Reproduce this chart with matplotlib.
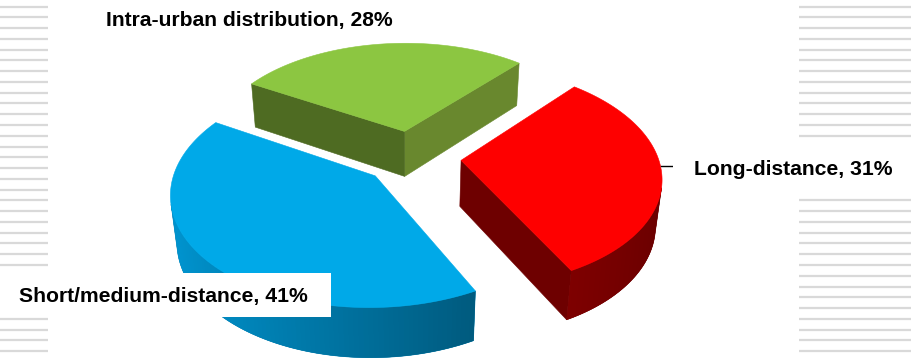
import numpy as np
import matplotlib
matplotlib.use("Agg")
import matplotlib.pyplot as plt
from matplotlib.patches import Polygon, Rectangle
from matplotlib.colors import to_rgb

labels = ["Intra-urban distribution", "Long-distance", "Short/medium-distance"]
shares = [28, 31, 41]
top_colors = ["#8CC641", "#FE0000", "#00A9E8"]
side_light = ["#6E8E30", "#B40000", "#0096D2"]
side_dark = ["#44601E", "#6A0000", "#00445F"]

# camera / layout of the tilted pie (pixel units of the 912x359 figure)
START = 149.5
EXPLODE = 0.25
THICK = 0.285
TILT = np.radians(33)
DIST = 5.94
FOCAL = 1170
CX, CY = 412, 157
CAM = np.array([0.0, -DIST * np.cos(TILT), DIST * np.sin(TILT)])


def project(x, y, h):
    yv = y * np.sin(TILT) + h * np.cos(TILT)
    z = DIST + y * np.cos(TILT) - h * np.sin(TILT)
    return np.column_stack([CX + FOCAL * x / z, CY - FOCAL * yv / z])


def mix(light, dark, s):
    l, d = np.array(to_rgb(light)), np.array(to_rgb(dark))
    return tuple(d + (l - d) * np.clip(s, 0, 1))


def facing(p, n):
    return np.dot(CAM - p, n) > 0


def add_face(ax, x, y, h, color, z, lw=0.4):
    ax.add_patch(Polygon(project(x, y, h), closed=True, facecolor=color,
                         edgecolor=color if lw else "none", lw=lw, zorder=z))


fig = plt.figure(figsize=(9.12, 3.59), dpi=100)
ax = fig.add_axes([0, 0, 1, 1])
ax.set_xlim(0, 912)
ax.set_ylim(359, 0)
ax.axis("off")

# striped background at both edges
rows = np.arange(6.5, 359, 10.77)
ax.hlines(rows, 0, 48, color="#D9D9D9", lw=1.6, zorder=0)
ax.hlines(rows, 799, 912, color="#D9D9D9", lw=1.6, zorder=0)

# slice geometry (clockwise from START)
wedges = []
edge = START
for i, v in enumerate(shares):
    a1 = np.radians(edge)
    a0 = np.radians(edge - v * 3.6)
    edge -= v * 3.6
    mid = (a0 + a1) / 2
    wedges.append((i, a0, a1, EXPLODE * np.cos(mid), EXPLODE * np.sin(mid)))

# far slices first
wedges.sort(key=lambda w: -w[4])
z = 2
for i, a0, a1, ox, oy in wedges:
    t = np.linspace(a0, a1, 120)
    # radial cut faces
    for a, n in [(a0, np.array([np.sin(a0), -np.cos(a0), 0])),
                 (a1, np.array([-np.sin(a1), np.cos(a1), 0]))]:
        p = np.array([ox + 0.5 * np.cos(a), oy + 0.5 * np.sin(a), -THICK / 2])
        if facing(p, n):
            xs = np.array([ox, ox + np.cos(a), ox + np.cos(a), ox])
            ys = np.array([oy, oy + np.sin(a), oy + np.sin(a), oy])
            hs = np.array([0, 0, -THICK, -THICK])
            add_face(ax, xs, ys, hs, mix(side_light[i], side_dark[i], (1 + n[0]) / 2), z)
    # curved outer face: solid underlay, then shaded strips (each overlaps the next)
    tm = (t[:-1] + t[1:]) / 2
    vis = np.array([facing(np.array([ox + np.cos(a), oy + np.sin(a), -THICK / 2]),
                           np.array([np.cos(a), np.sin(a), 0])) for a in tm])
    if vis.any():
        idx = np.where(vis)[0]
        ts = t[idx[0]:idx[-1] + 2]
        xs = np.concatenate([ox + np.cos(ts), ox + np.cos(ts[::-1])])
        ys = np.concatenate([oy + np.sin(ts), oy + np.sin(ts[::-1])])
        hs = np.concatenate([np.zeros_like(ts), np.full_like(ts, -THICK)])
        add_face(ax, xs, ys, hs,
                 mix(side_light[i], side_dark[i], (1 - np.cos(ts.mean())) / 2), z)
        for k in idx:
            hi = t[min(k + 2, idx[-1] + 1)]
            tt = np.array([t[k], hi, hi, t[k]])
            add_face(ax, ox + np.cos(tt), oy + np.sin(tt),
                     np.array([0, 0, -THICK, -THICK]),
                     mix(side_light[i], side_dark[i], (1 - np.cos(tm[k])) / 2), z, lw=0)
    # top face
    xs = np.concatenate([[ox], ox + np.cos(t)])
    ys = np.concatenate([[oy], oy + np.sin(t)])
    add_face(ax, xs, ys, np.zeros_like(xs), top_colors[i], z + 1)
    z += 2

# labels
font = dict(family="Liberation Sans", weight="bold", fontsize=15.2, color="black")
ax.add_patch(Rectangle((0, 273), 331, 44, facecolor="white", edgecolor="none", zorder=20))
ax.add_patch(Rectangle((673, 141), 239, 52, facecolor="white", edgecolor="none", zorder=20))

ax.text(106, 26, f"{labels[0]}, {shares[0]}%", ha="left", va="baseline", zorder=21, **font)
ax.text(694, 175, f"{labels[1]}, {shares[1]}%", ha="left", va="baseline", zorder=21, **font)
ax.text(19, 302, f"{labels[2]}, {shares[2]}%", ha="left", va="baseline", zorder=21, **font)

# short leader for the long-distance slice
a0, a1 = np.radians(START - shares[0] * 3.6 - shares[1] * 3.6), np.radians(START - shares[0] * 3.6)
mid = (a0 + a1) / 2
lx, ly = project(np.array([EXPLODE * np.cos(mid) + np.cos(mid + np.radians(4))]),
                 np.array([EXPLODE * np.sin(mid) + np.sin(mid + np.radians(4))]), np.array([0.0]))[0]
ax.plot([lx, 681], [ly, ly], color="black", lw=1.0, zorder=19)

fig.savefig("out.png", dpi=100)
